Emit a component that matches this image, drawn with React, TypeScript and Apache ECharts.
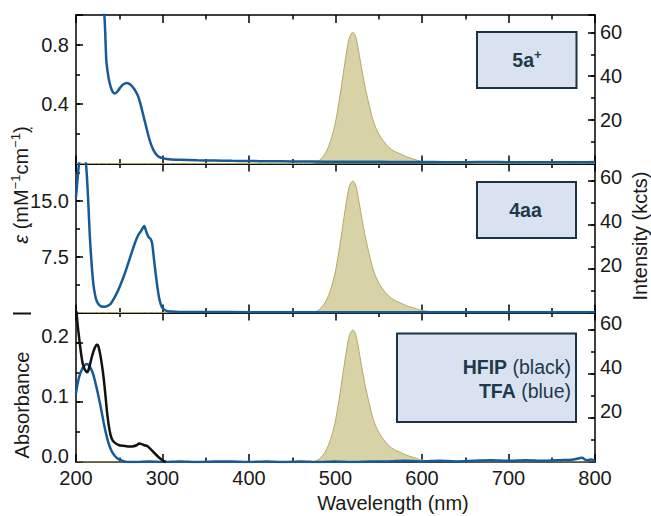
import React, { useEffect, useRef } from 'react';
import * as echarts from 'echarts';

const FONT = '"Liberation Sans", Arial, Helvetica, sans-serif';
const INK = '#1a1a1a';
const BOX_INK = '#1d3a4c';
const BOX_FILL = '#dae2f1';
const BOX_STROKE = '#1b3444';
const BLUE = '#175a98';
const BLACK = '#111111';
const OLIVE_FILL = '#d7d3a6';
const OLIVE_LINE = '#b3aa63';

// ---------------- data ----------------
const wavelengthMin = 200;
const wavelengthMax = 800;
const wavelengthStep = 100;

// photoluminescence (kcts), same shape in every panel
const emissionWl = [200, 300, 400, 450, 470, 476, 480, 484, 488, 492, 496, 500, 504, 508, 512, 516, 520, 523, 526, 530, 535, 540, 544, 550, 556, 562, 568, 575, 582, 590, 598, 606, 615, 625, 640, 660, 700, 800];
const emissionKcts = [0, 0, 0, 0, 0, 0.3, 1, 2.4, 4.5, 7.8, 12.5, 19, 28, 38.5, 49, 57.5, 60, 58.5, 53, 44, 33.5, 25, 19, 13.5, 10, 7.3, 5.6, 4.4, 3.1, 2.1, 1.1, 0.6, 0.35, 0.2, 0.1, 0, 0, 0];

// 5a+ absorption, epsilon (mM^-1 cm^-1)
const abs5aWl = [200, 210, 220, 226, 230, 233, 235, 237, 239, 241, 243, 245, 248, 251, 254, 257, 259, 261, 263, 266, 269, 272, 275, 278, 281, 284, 287, 290, 293, 296, 300, 305, 310, 320, 340, 360, 380, 400, 425, 450, 475, 500, 525, 550, 575, 600, 625, 650, 675, 700, 725, 750, 775, 800];
const abs5aEps = [3.5, 2.6, 1.8, 1.35, 1.12, 0.98, 0.7, 0.6, 0.54, 0.5, 0.478, 0.472, 0.485, 0.51, 0.53, 0.54, 0.542, 0.538, 0.53, 0.512, 0.485, 0.45, 0.39, 0.32, 0.25, 0.18, 0.125, 0.085, 0.06, 0.045, 0.036, 0.03, 0.027, 0.025, 0.022, 0.02, 0.018, 0.017, 0.015, 0.014, 0.013, 0.012, 0.012, 0.011, 0.01, 0.01, 0.009, 0.009, 0.01, 0.009, 0.008, 0.009, 0.008, 0.01];

// 4aa absorption, epsilon (mM^-1 cm^-1)
const abs4aaWl = [200, 202, 204, 206, 208, 210, 212, 214, 216, 218, 220, 222, 224, 227, 230, 233, 236, 240, 244, 248, 252, 256, 260, 264, 268, 272, 275, 277, 279, 280, 282, 284, 286, 288, 290, 292, 294, 296, 298, 300, 303, 306, 310, 320, 350, 400, 500, 600, 700, 800];
const abs4aaEps = [15.5, 18.2, 20.5, 21.5, 21.8, 21.5, 19.3, 15.3, 10.2, 6.6, 3.9, 2.4, 1.5, 1.0, 0.8, 0.78, 0.85, 1.15, 1.9, 2.8, 3.9, 5.1, 6.5, 7.9, 9.3, 10.4, 10.9, 11.3, 11.6, 11.3, 10.6, 10.1, 9.9, 9.3, 7.3, 5.3, 3.5, 2.0, 1.1, 0.6, 0.3, 0.18, 0.12, 0.08, 0.06, 0.05, 0.05, 0.05, 0.05, 0.05];

// absorbance in HFIP (black)
const absHfipWl = [200, 202, 204, 206, 208, 210, 212, 213, 214, 216, 218, 220, 222, 224, 225, 226, 228, 230, 232, 234, 236, 238, 240, 242, 245, 250, 255, 260, 265, 270, 273, 276, 279, 282, 286, 290, 294, 298, 301, 304];
const absHfipA = [0.262, 0.228, 0.203, 0.18, 0.163, 0.155, 0.151, 0.15, 0.152, 0.162, 0.174, 0.184, 0.192, 0.196, 0.196, 0.193, 0.18, 0.162, 0.14, 0.112, 0.082, 0.06, 0.045, 0.037, 0.032, 0.028, 0.027, 0.026, 0.026, 0.028, 0.031, 0.03, 0.028, 0.027, 0.022, 0.016, 0.01, 0.005, 0.002, 0.0];

// absorbance in TFA (blue)
const absTfaWl = [200, 202, 204, 206, 208, 210, 212, 214, 216, 218, 220, 222, 224, 226, 228, 230, 232, 234, 236, 238, 240, 242, 245, 248, 252, 256, 260, 270, 285, 300, 320, 340, 360, 380, 400, 420, 440, 460, 480, 500, 520, 540, 560, 580, 600, 620, 640, 660, 680, 700, 720, 740, 760, 775, 785, 790, 795, 800];
const absTfaA = [0.115, 0.132, 0.144, 0.152, 0.158, 0.162, 0.164, 0.163, 0.159, 0.154, 0.146, 0.135, 0.123, 0.11, 0.096, 0.081, 0.066, 0.052, 0.04, 0.03, 0.022, 0.016, 0.01, 0.006, 0.003, 0.001, 0.0, 0.0, 0.001, 0.0, 0.001, 0.0, 0.001, 0.001, 0.0, 0.001, 0.0, 0.001, 0.0, 0.001, 0.0, 0.001, 0.001, 0.002, 0.001, 0.002, 0.001, 0.002, 0.003, 0.002, 0.003, 0.002, 0.003, 0.004, 0.007, 0.003, 0.004, 0.002];

// tick labels
const leftLabels5a = [0.4, 0.8];
const leftLabels4aa = [7.5, 15.0];
const leftLabelsAbs = [0.0, 0.1, 0.2];
const rightLabels = [20, 40, 60];

// ---------------- layout ----------------
const GRID_LEFT = 76;
const GRID_RIGHT_EDGE = 595;
const PANELS = [
  { top: 15, height: 148.5, min: 0, max: 1.0, major: 0.4, minor: 0.2, labels: leftLabels5a, raiseL: 0, raiseR: 0 },
  { top: 163.5, height: 149, min: 0, max: 20, major: 7.5, minor: 3.75, labels: leftLabels4aa, raiseL: 0, raiseR: 4 },
  { top: 312.5, height: 149.5, min: 0, max: 0.25, major: 0.1, minor: 0.05, labels: leftLabelsAbs, raiseL: 6, raiseR: 7 },
];
const R_MIN = 0, R_MAX = 68, R_MAJOR = 20, R_MINOR = 10;

const pair = (xs: number[], ys: number[]) => xs.map((x, i) => [x, ys[i]]);
const has = (arr: number[], v: number) => arr.some((a) => Math.abs(a - v) < 1e-6);

const axisLineStyle = { color: '#000', width: 1.5 };

function xAxisFor(gridIndex: number, position: string, showLabels: boolean) {
  return {
    type: 'value', gridIndex, position,
    min: wavelengthMin, max: wavelengthMax, interval: wavelengthStep,
    axisLine: { show: true, onZero: false, lineStyle: axisLineStyle },
    axisTick: { show: true, inside: true, length: 8, lineStyle: axisLineStyle },
    minorTick: { show: true, splitNumber: 2, length: 4.5, lineStyle: axisLineStyle },
    axisLabel: {
      show: showLabels, margin: 6, fontSize: 20, fontFamily: FONT, color: INK,
      formatter: (v: number) => String(v),
    },
    splitLine: { show: false },
    minorSplitLine: { show: false },
  };
}

function yAxisFor(gridIndex: number, position: string, min: number, max: number, interval: number,
  tickLen: number, showLine: boolean, label: any) {
  return {
    type: 'value', gridIndex, position, min, max, interval,
    axisLine: { show: showLine, onZero: false, lineStyle: axisLineStyle },
    axisTick: { show: true, inside: true, length: tickLen, lineStyle: axisLineStyle },
    axisLabel: label ? label : { show: false },
    splitLine: { show: false },
  };
}

const raiseStyle = (raise: number) =>
  raise > 0 ? { verticalAlign: 'bottom', lineHeight: raise * 2 } : { verticalAlign: 'middle' };

function buildOption() {
  const grid = PANELS.map((p) => ({
    left: GRID_LEFT, width: GRID_RIGHT_EDGE - GRID_LEFT, top: p.top, height: p.height,
    containLabel: false, show: false,
  }));

  const xAxis: any[] = [];
  PANELS.forEach((_, i) => {
    xAxis.push(xAxisFor(i, 'bottom', i === 2));
    xAxis.push(xAxisFor(i, 'top', false));
  });

  const yAxis: any[] = [];
  PANELS.forEach((p, i) => {
    const labs = p.labels;
    yAxis.push(yAxisFor(i, 'left', p.min, p.max, p.major, 7, true, {
      show: true, margin: 7, fontSize: 20, fontFamily: FONT, color: INK,
      ...raiseStyle(p.raiseL),
      formatter: (v: number) => (has(labs, v) ? v.toFixed(1) : ''),
    }));
    yAxis.push(yAxisFor(i, 'left', p.min, p.max, p.minor, 4, false, null));
    yAxis.push(yAxisFor(i, 'right', R_MIN, R_MAX, R_MAJOR, 7, true, {
      show: true, margin: 5, fontSize: 20, fontFamily: FONT, color: INK,
      ...raiseStyle(p.raiseR),
      formatter: (v: number) => (has(rightLabels, v) ? String(v) : ''),
    }));
    yAxis.push(yAxisFor(i, 'right', R_MIN, R_MAX, R_MINOR, 4, false, null));
  });

  const emission = (i: number) => ({
    type: 'line', xAxisIndex: i * 2, yAxisIndex: i * 4 + 2,
    data: pair(emissionWl, emissionKcts),
    symbol: 'none', showSymbol: false, smooth: 0.3, clip: true, silent: true,
    lineStyle: { color: OLIVE_LINE, width: 1 },
    areaStyle: { color: OLIVE_FILL, opacity: 1 },
    z: 1,
  });
  const absLine = (i: number, data: number[][], color: string) => ({
    type: 'line', xAxisIndex: i * 2, yAxisIndex: i * 4,
    data, symbol: 'none', showSymbol: false, smooth: 0.25, clip: true, silent: true,
    lineStyle: { color, width: 2.5 },
    z: 3,
  });

  const series = [
    emission(0), emission(1), emission(2),
    absLine(0, pair(abs5aWl, abs5aEps), BLUE),
    absLine(1, pair(abs4aaWl, abs4aaEps), BLUE),
    absLine(2, pair(absTfaWl, absTfaA), BLUE),
    absLine(2, pair(absHfipWl, absHfipA), BLACK),
  ];

  const baseText = { fontFamily: FONT, fill: INK, fontSize: 20 };
  const boxText = { fontFamily: FONT, fill: BOX_INK, fontSize: 19.5 };

  const graphic = [
    // legend boxes
    { type: 'rect', shape: { x: 477, y: 32, width: 99.5, height: 56 }, style: { fill: BOX_FILL, stroke: BOX_STROKE, lineWidth: 2 }, z: 10 },
    { type: 'rect', shape: { x: 477, y: 182, width: 99, height: 56 }, style: { fill: BOX_FILL, stroke: BOX_STROKE, lineWidth: 2 }, z: 10 },
    { type: 'rect', shape: { x: 397, y: 333.5, width: 179, height: 88.5 }, style: { fill: BOX_FILL, stroke: BOX_STROKE, lineWidth: 2 }, z: 10 },
    {
      type: 'text', x: 527, y: 60, z: 11,
      style: {
        ...boxText, fontWeight: 'bold', text: '5a{sup|+}', align: 'center', verticalAlign: 'middle',
        textAlign: 'center', textVerticalAlign: 'middle', lineHeight: 24,
        rich: { sup: { fontFamily: FONT, fontSize: 13, fontWeight: 'bold', fill: BOX_INK, verticalAlign: 'top', lineHeight: 14 } },
      },
    },
    {
      type: 'text', x: 525.5, y: 210, z: 11,
      style: { ...boxText, fontWeight: 'bold', text: '4aa', align: 'center', verticalAlign: 'middle', textAlign: 'center', textVerticalAlign: 'middle' },
    },
    {
      type: 'text', x: 571, y: 378.5, z: 11,
      style: {
        ...boxText, text: '{b|HFIP} (black)\n{b|TFA} (blue)', align: 'right', verticalAlign: 'middle',
        textAlign: 'right', textVerticalAlign: 'middle', lineHeight: 24,
        rich: { b: { fontFamily: FONT, fontSize: 19.5, fontWeight: 'bold', fill: BOX_INK, lineHeight: 24 } },
      },
    },
    // axis titles
    {
      type: 'text', x: 21, y: 185, rotation: Math.PI / 2, z: 11,
      style: {
        ...baseText, text: '{i|ε} (mM{s|−1}cm{s|−1})', align: 'center', verticalAlign: 'middle',
        textAlign: 'center', textVerticalAlign: 'middle', lineHeight: 24,
        rich: {
          i: { fontFamily: FONT, fontSize: 20, fontStyle: 'italic', fill: INK, lineHeight: 24 },
          s: { fontFamily: FONT, fontSize: 13, fill: INK, verticalAlign: 'top', lineHeight: 14 },
        },
      },
    },
    {
      type: 'text', x: 22, y: 405, rotation: Math.PI / 2, z: 11,
      style: { ...baseText, text: 'Absorbance', align: 'center', verticalAlign: 'middle', textAlign: 'center', textVerticalAlign: 'middle' },
    },
    {
      type: 'text', x: 640, y: 236, rotation: Math.PI / 2, z: 11,
      style: { ...baseText, text: 'Intensity (kcts)', align: 'center', verticalAlign: 'middle', textAlign: 'center', textVerticalAlign: 'middle' },
    },
    {
      type: 'text', x: 393, y: 503, z: 11,
      style: { ...baseText, text: 'Wavelength (nm)', align: 'center', verticalAlign: 'middle', textAlign: 'center', textVerticalAlign: 'middle' },
    },
    // small stray marks in the original figure
    { type: 'line', shape: { x1: 13, y1: 313.5, x2: 31, y2: 313.5 }, style: { stroke: '#111', lineWidth: 2 }, z: 11 },
    { type: 'rect', shape: { x: 30, y: 225.5, width: 2, height: 1.5 }, style: { fill: '#333' }, z: 11 },
    { type: 'rect', shape: { x: 30.5, y: 127.5, width: 2, height: 1.5 }, style: { fill: '#333' }, z: 11 },
  ];

  return {
    animation: false,
    backgroundColor: '#ffffff',
    grid, xAxis, yAxis, series, graphic,
  };
}

export default function App() {
  const ref = useRef<HTMLDivElement | null>(null);
  useEffect(() => {
    if (!ref.current) return;
    const chart = echarts.init(ref.current, null, { renderer: 'svg' });
    chart.setOption(buildOption() as any);
    return () => chart.dispose();
  }, []);
  return (
    <div
      ref={ref}
      style={{ position: 'fixed', left: 0, top: 0, width: 651, height: 516, background: '#fff' }}
    />
  );
}
